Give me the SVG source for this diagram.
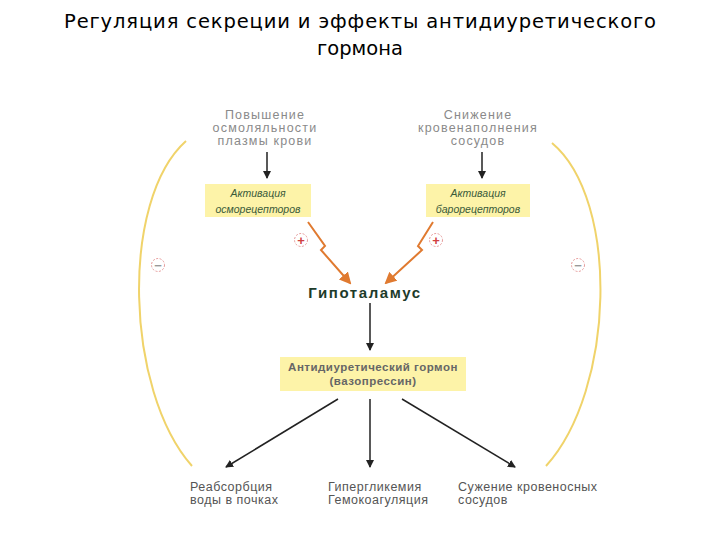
<svg xmlns="http://www.w3.org/2000/svg" width="720" height="540" viewBox="0 0 720 540">
<style>
.t{font-family:"Liberation Sans",Arial,sans-serif}
.g{fill:#8a8a8a;font-size:12.5px;letter-spacing:1.2px;text-anchor:middle}
.b{fill:#555;font-size:12.5px;letter-spacing:0.5px}
.i{fill:#3a5a3a;font-size:10.5px;font-style:italic;text-anchor:middle}
.box{fill:#fdf3a8}
.k{stroke:#222;stroke-width:1.5;fill:none}
.o{stroke:#e07a30;stroke-width:2;fill:none}
.y{stroke:#f0d36a;stroke-width:2;fill:none}
.c{fill:none;stroke:#e69a9a;stroke-width:1;stroke-dasharray:2 1.5}
</style>
<defs>
<marker id="ak" markerWidth="8" markerHeight="8" refX="7" refY="4" orient="auto" markerUnits="userSpaceOnUse"><path d="M0,0L8,4L0,8z" fill="#222"/></marker>
<marker id="ao" markerWidth="12" markerHeight="12" refX="10" refY="6" orient="auto" markerUnits="userSpaceOnUse"><path d="M0,0L12,6L0,12z" fill="#e07a30"/></marker>
</defs>
<text x="360" y="28" font-family="DejaVu Sans, sans-serif" font-size="19.5" text-anchor="middle" fill="#000" textLength="592" lengthAdjust="spacing">Регуляция секреции и эффекты антидиуретического</text>
<text x="360" y="55" font-family="DejaVu Sans, sans-serif" font-size="19.5" text-anchor="middle" fill="#000">гормона</text>
<g id="connectors">
<path class="y" d="M186,141 C120,200 125,390 192,466"/>
<path class="y" d="M552,143 C620,200 615,390 546,466"/>
<line class="k" x1="267" y1="152" x2="267" y2="178" marker-end="url(#ak)"/>
<line class="k" x1="482" y1="152" x2="482" y2="178" marker-end="url(#ak)"/>
<path class="o" d="M308,222 L325,246 L321,250 L350,283" marker-end="url(#ao)"/>
<path class="o" d="M433,222 L418,246 L422,250 L386,283" marker-end="url(#ao)"/>
<line class="k" x1="370" y1="303" x2="370" y2="350" marker-end="url(#ak)"/>
<line class="k" x1="338" y1="399" x2="226" y2="467" marker-end="url(#ak)"/>
<line class="k" x1="370" y1="399" x2="370" y2="467" marker-end="url(#ak)"/>
<line class="k" x1="402" y1="399" x2="515" y2="467" marker-end="url(#ak)"/>
</g>
<g id="signs">
<circle class="c" cx="301" cy="240" r="6.5"/><text class="t" x="301" y="244.5" font-size="13" font-weight="bold" text-anchor="middle" fill="#d04040">+</text>
<circle class="c" cx="436" cy="240" r="6.5"/><text class="t" x="436" y="244.5" font-size="13" font-weight="bold" text-anchor="middle" fill="#d04040">+</text>
<circle class="c" cx="158" cy="265" r="6.5"/><text class="t" x="158" y="269.5" font-size="13" font-weight="bold" text-anchor="middle" fill="#999">−</text>
<circle class="c" cx="578" cy="265" r="6.5"/><text class="t" x="578" y="269.5" font-size="13" font-weight="bold" text-anchor="middle" fill="#999">−</text>
</g>
<g id="n1"><text class="t g"><tspan x="265" y="119">Повышение</tspan><tspan x="265" y="132">осмоляльности</tspan><tspan x="265" y="145">плазмы крови</tspan></text></g>
<g id="n2"><text class="t g"><tspan x="478" y="119">Снижение</tspan><tspan x="478" y="132">кровенаполнения</tspan><tspan x="478" y="145">сосудов</tspan></text></g>
<g id="n3"><rect class="box" x="205" y="184" width="106" height="33"/><text class="t i"><tspan x="258" y="197">Активация</tspan><tspan x="258" y="213">осморецепторов</tspan></text></g>
<g id="n4"><rect class="box" x="426" y="184" width="104" height="33"/><text class="t i"><tspan x="478" y="197">Активация</tspan><tspan x="478" y="213">барорецепторов</tspan></text></g>
<g id="n5"><text class="t" x="365" y="298" font-size="15" font-weight="bold" letter-spacing="1.6" fill="#1d3b2a" text-anchor="middle">Гипоталамус</text></g>
<g id="n6"><rect class="box" x="280" y="357" width="186" height="34"/><text class="t" font-size="11.5" font-weight="bold" letter-spacing="0.5" fill="#666" text-anchor="middle"><tspan x="373" y="371">Антидиуретический гормон</tspan><tspan x="373" y="385">(вазопрессин)</tspan></text></g>
<g id="n7"><text class="t b"><tspan x="190" y="491">Реабсорбция</tspan><tspan x="190" y="504">воды в почках</tspan></text></g>
<g id="n8"><text class="t b"><tspan x="328" y="491">Гипергликемия</tspan><tspan x="328" y="504">Гемокоагуляция</tspan></text></g>
<g id="n9"><text class="t b"><tspan x="458" y="491">Сужение кровеносных</tspan><tspan x="458" y="504">сосудов</tspan></text></g>
</svg>
